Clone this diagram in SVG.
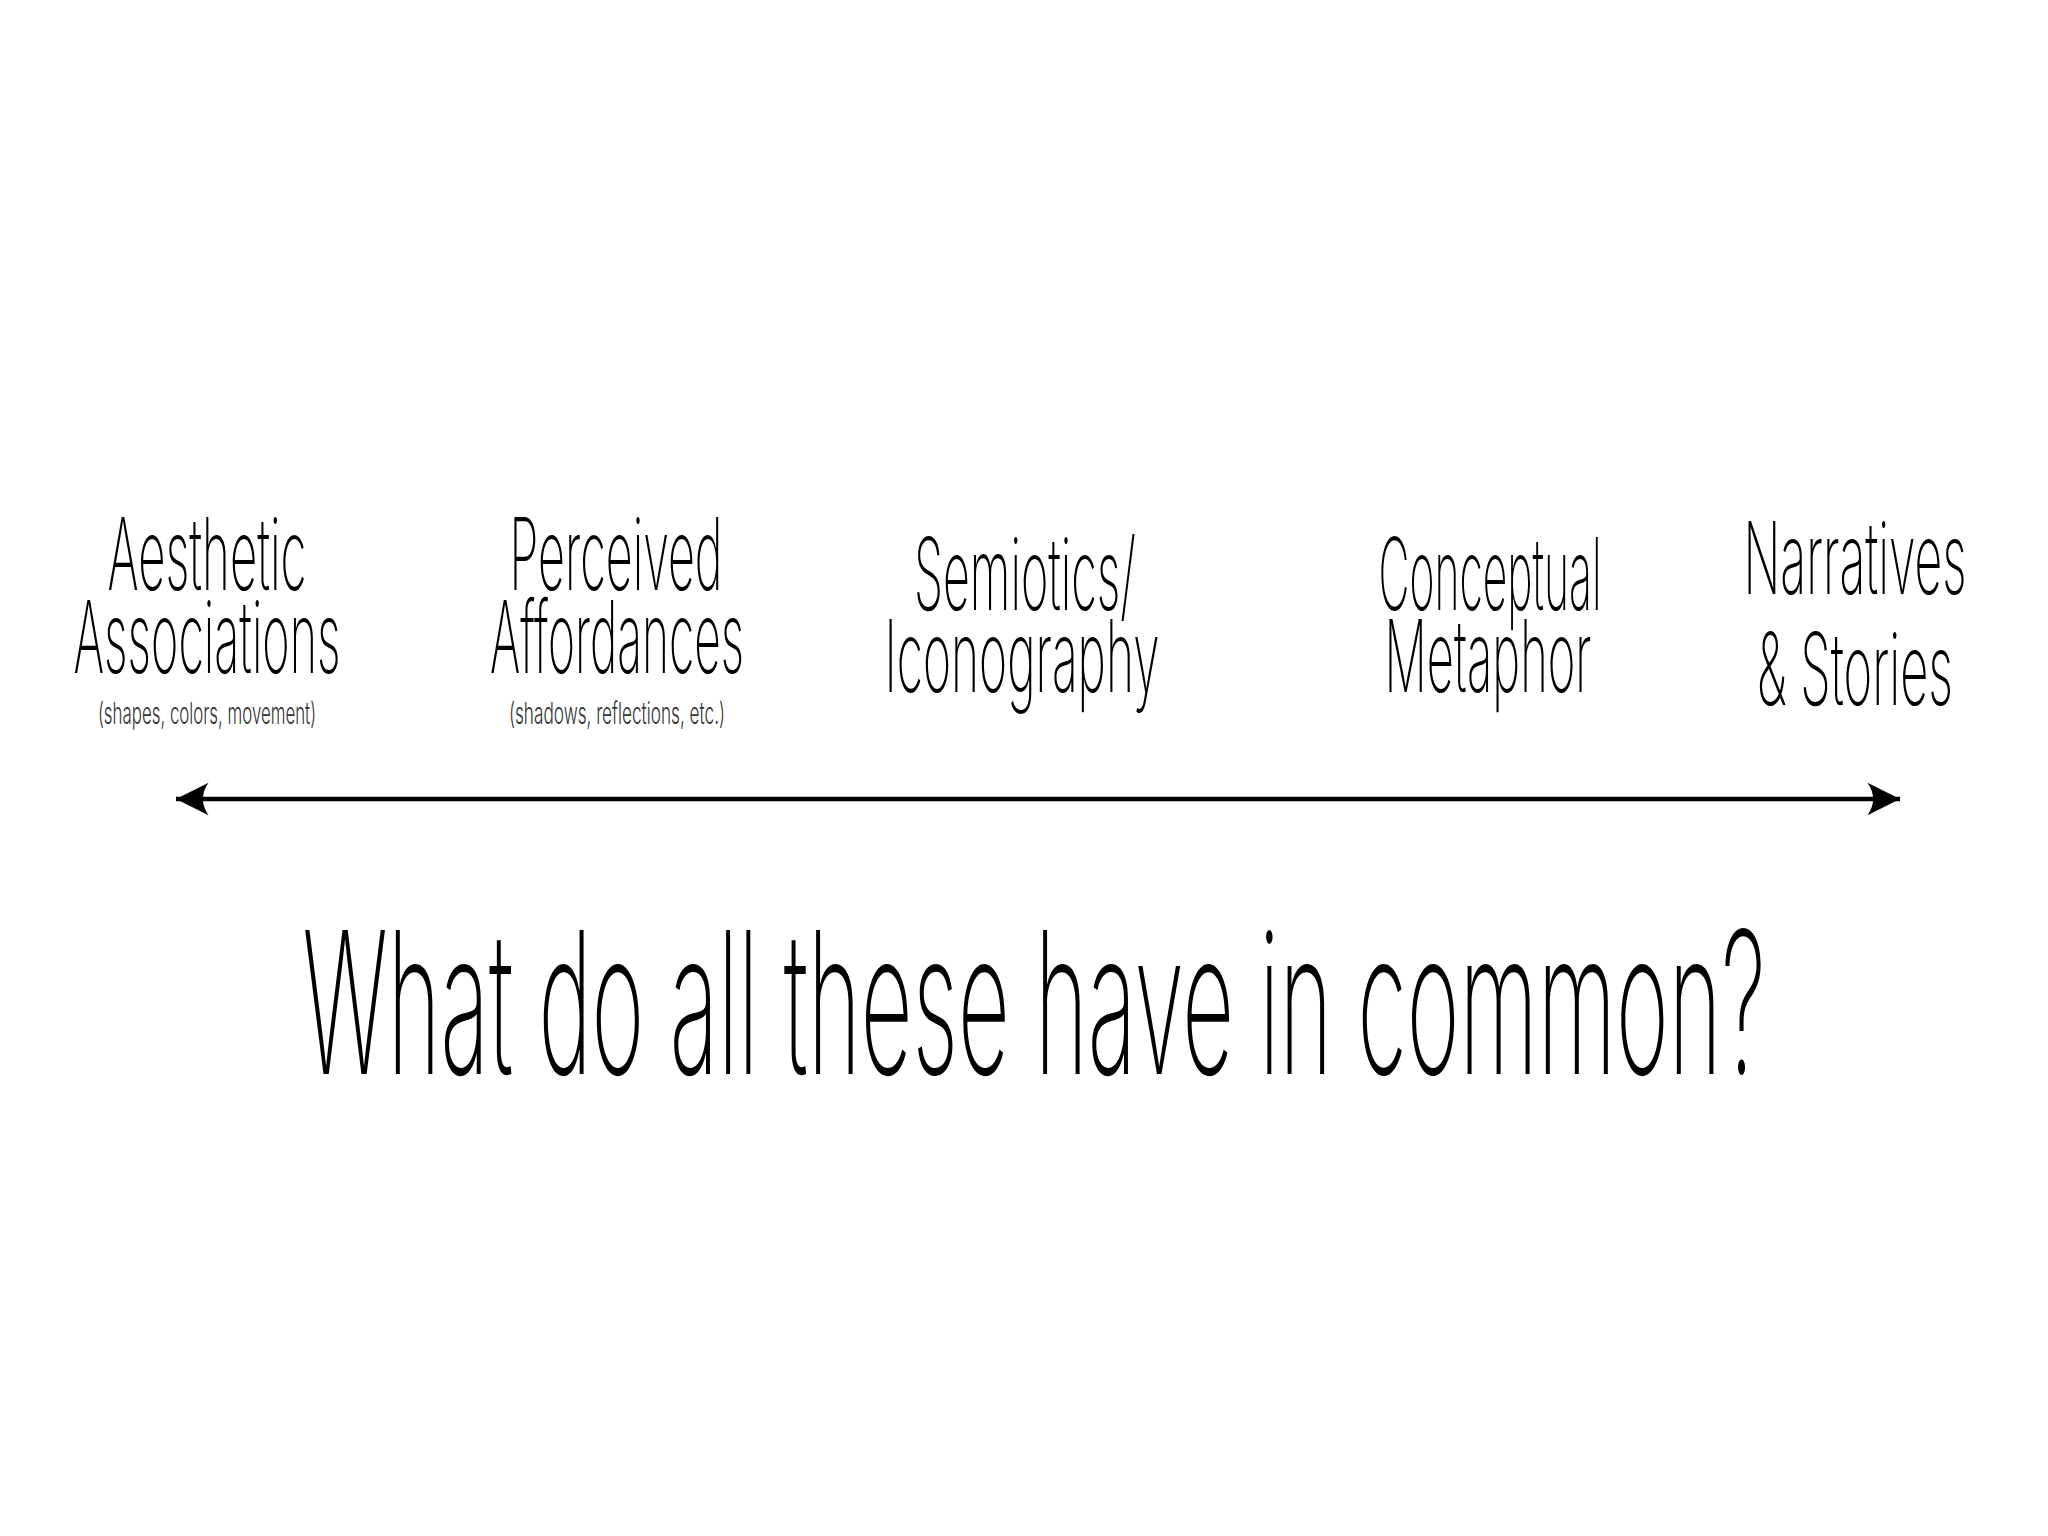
<svg xmlns="http://www.w3.org/2000/svg" width="2048" height="1536" viewBox="0 0 2048 1536">
  <style>
    .lbl { font-family: Inter, Lato, "Liberation Sans", sans-serif; font-weight: 200; font-size: 100px; fill: #000; text-anchor: middle; }
    .sub { font-family: Inter, Lato, "Liberation Sans", sans-serif; font-weight: 300; font-size: 30px; fill: #333; text-anchor: middle; }
    .main { font-family: Inter, Lato, "Liberation Sans", sans-serif; font-weight: 200; font-size: 198px; fill: #000; text-anchor: middle; }
  </style>
  <defs>
    <marker id="head" markerUnits="userSpaceOnUse" markerWidth="40" markerHeight="40" viewBox="-30 -16 32 32" refX="0" refY="0" orient="auto-start-reverse">
      <path d="M0,0 L-26,-13 Q-17,0 -26,13 Z" fill="#000"/>
    </marker>
  </defs>
  <rect width="2048" height="1536" fill="#fff"/>
  <g id="connectors">
    <line x1="176" y1="799" x2="1900" y2="799" stroke="#000" stroke-width="4.5" marker-start="url(#head)" marker-end="url(#head)"/>
  </g>
  <g id="aesthetic">
    <text class="lbl" x="207" y="590" textLength="199" lengthAdjust="spacingAndGlyphs">Aesthetic</text>
    <text class="lbl" x="207" y="673" textLength="267" lengthAdjust="spacingAndGlyphs">Associations</text>
    <text class="sub" x="207" y="724" textLength="218" lengthAdjust="spacingAndGlyphs">(shapes, colors, movement)</text>
  </g>
  <g id="perceived">
    <text class="lbl" x="616" y="590" textLength="213" lengthAdjust="spacingAndGlyphs">Perceived</text>
    <text class="lbl" x="617" y="673" textLength="254" lengthAdjust="spacingAndGlyphs">Affordances</text>
    <text class="sub" x="617" y="724" textLength="216" lengthAdjust="spacingAndGlyphs">(shadows, reflections, etc.)</text>
  </g>
  <g id="semiotics">
    <text class="lbl" x="1025" y="610" textLength="222" lengthAdjust="spacingAndGlyphs">Semiotics/</text>
    <text class="lbl" x="1022" y="692" textLength="275" lengthAdjust="spacingAndGlyphs">Iconography</text>
  </g>
  <g id="conceptual">
    <text class="lbl" x="1490" y="610" textLength="223" lengthAdjust="spacingAndGlyphs">Conceptual</text>
    <text class="lbl" x="1488" y="692" textLength="207" lengthAdjust="spacingAndGlyphs">Metaphor</text>
  </g>
  <g id="narratives">
    <text class="lbl" x="1855" y="594" textLength="223" lengthAdjust="spacingAndGlyphs">Narratives</text>
    <text class="lbl" x="1855" y="705" textLength="196" lengthAdjust="spacingAndGlyphs">&amp; Stories</text>
  </g>
  <g id="question">
    <text class="main" x="1034" y="1074" textLength="1463" lengthAdjust="spacingAndGlyphs">What do all these have in common?</text>
  </g>
</svg>
